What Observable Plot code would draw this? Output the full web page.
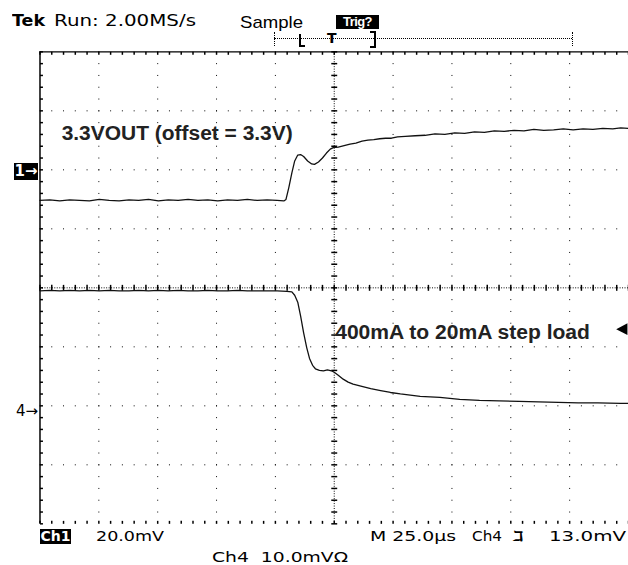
<!DOCTYPE html>
<html><head><meta charset="utf-8">
<script src="https://cdn.jsdelivr.net/npm/d3@7"></script>
<script src="https://cdn.jsdelivr.net/npm/@observablehq/plot@0.6"></script>
<style>
html,body{margin:0;padding:0;background:#fff;overflow:hidden;width:628px;height:565px}
#wrap{position:relative;width:628px;height:565px;overflow:hidden}
#wrap svg{position:absolute;left:0;top:0}
.abs{position:absolute;white-space:nowrap;line-height:1;color:#000}
.dv{font-family:"DejaVu Sans",sans-serif;font-size:14px}
.ar{font-family:"Liberation Sans",Arial,sans-serif;font-size:15px}
.box{background:#000;color:#fff;font-weight:bold;text-align:center}
</style></head><body><div id="wrap"></div>
<script>
// ---- data (time in µs from left edge of screen, voltage in mV relative to channel reference) ----
const ch1Time = [0,4.2,8.4,12.6,16.8,21.0,25.2,29.4,33.6,37.8,41.9,46.1,50.3,54.5,58.7,62.9,67.1,71.3,75.5,79.7,83.9,88.1,92.3,96.5,100.7,103.6,104.5,105.7,107.0,108.2,109.5,110.7,112.0,113.7,115.4,116.6,118.3,120.0,121.7,123.3,124.6,126.7,129.2,131.7,134.2,136.8,139.3,141.8,144.3,146.8,149.3,151.9,155.2,159.4,163.6,167.8,172.0,176.2,180.4,184.6,188.8,193.0,197.2,201.4,205.6,209.8,214.0,218.2,222.3,226.5,230.7,234.9,239.1,243.3,246.7,250.0];
const ch1mV = [-10.38,-10.21,-10.54,-10.21,-10.38,-10.54,-10.04,-10.38,-10.54,-10.21,-10.38,-10.04,-10.54,-10.21,-10.38,-10.04,-10.38,-10.21,-10.54,-10.21,-10.38,-10.04,-10.38,-10.21,-10.38,
-10.54,-10.04,-6.03,-1.00,3.01,5.02,5.19,4.52,3.01,2.01,1.84,2.68,4.02,5.69,7.03,7.53,
7.70,8.20,8.70,9.04,9.71,10.04,10.21,10.54,10.71,10.71,11.21,
11.38,11.55,11.72,12.22,12.05,12.55,12.39,12.89,12.72,13.22,13.05,13.39,13.22,13.72,13.39,13.56,13.89,13.56,13.89,13.72,14.06,13.89,14.22,14.06];
const ch4Time = [0,4.2,8.4,12.6,16.8,21.0,25.2,29.4,33.6,37.8,41.9,46.1,50.3,54.5,58.7,62.9,67.1,71.3,75.5,79.7,83.9,88.1,92.3,96.5,100.7,104.9,107.0,108.2,109.5,110.7,112.0,113.3,114.5,115.8,117.0,118.7,120.4,122.1,123.8,125.0,126.7,128.8,130.9,133.0,136.3,140.5,144.7,148.9,153.1,161.5,169.9,178.3,186.7,195.1,203.5,211.8,220.2,228.6,237.0,246.7,250.0];
const ch4mV = [19.50,19.58,19.50,19.58,19.50,19.58,19.50,19.58,19.50,19.50,19.58,19.50,19.58,19.50,19.58,19.50,19.50,19.58,19.50,19.50,19.58,19.50,19.50,19.50,19.50,
19.41,19.33,18.74,17.57,15.23,12.38,9.87,8.03,6.86,6.28,6.02,5.94,6.10,5.94,5.69,5.19,4.52,4.02,3.68,3.35,2.93,2.59,2.26,2.01,1.59,1.42,1.09,0.92,0.84,0.75,0.67,0.59,0.50,0.50,0.42,0.42];
// channel settings
const ch1Ref = 2, ch4Ref = -2;        // reference marker position (divisions)
const ch1PerDiv = 20, ch4PerDiv = 10; // mV / div
const timePerDiv = 25;                // µs / div
const trigLevel = 13.0;               // mV on Ch4
const annotations = ["3.3VOUT (offset = 3.3V)", "400mA to 20mA step load"];

// ---- build tables ----
const ch1 = ch1Time.map((t,i)=>({t, v: ch1Ref + ch1mV[i]/ch1PerDiv}));
const ch4 = ch4Time.map((t,i)=>({t, v: ch4Ref + ch4mV[i]/ch4PerDiv}));

const xMinor = d3.range(0, 51).map(i => i*timePerDiv/5);
const yMinor = d3.range(-20, 21).map(i => i/5);
const xMajorInner = [1,2,3,4,6,7,8,9].map(i => i*timePerDiv);
const yMajorInner = [-3,-2,-1,1,2,3];

const sym = f => ({draw(c, size){ const r = Math.sqrt(size/Math.PI); f(c, r); }});
const tickH = sym((c,r)=>{c.moveTo(-r,0);c.lineTo(r,0);});
const tickV = sym((c,r)=>{c.moveTo(0,-r);c.lineTo(0,r);});
const tickDown = sym((c,r)=>{c.moveTo(0,0);c.lineTo(0,r);});
const tickUp = sym((c,r)=>{c.moveTo(0,0);c.lineTo(0,-r);});
const tickRight = sym((c,r)=>{c.moveTo(0,0);c.lineTo(r,0);});
const arrowLeft = sym((c,r)=>{c.moveTo(-r,0);c.lineTo(r*0.9,-r);c.lineTo(r*0.9,r);c.closePath();});

const ink = "#000";
const labelStyle = {textAnchor: "start", fontFamily: "Liberation Sans, Arial, sans-serif", fontWeight: "bold", fontSize: 21, fill: "#222"};
const plot = Plot.plot({
  width: 636, height: 565,
  marginLeft: 40, marginRight: 0, marginTop: 52, marginBottom: 35,
  x: {domain: [0, 10*timePerDiv], axis: null},
  y: {domain: [-4, 4], axis: null},
  style: {background: "transparent", overflow: "visible"},
  marks: [
    // dotted graticule
    Plot.ruleX(xMajorInner, {stroke: ink, strokeDasharray: "1,10.95"}),
    Plot.ruleY(yMajorInner, {stroke: ink, strokeDasharray: "1,10.92"}),
    // centre crosshair
    Plot.ruleX([5*timePerDiv], {stroke: ink, strokeDasharray: "1,1.5"}),
    Plot.ruleY([0], {stroke: ink, strokeDasharray: "1,1.5"}),
    Plot.dot(yMinor, {x: 5*timePerDiv, y: d=>d, symbol: tickH, r: 3, stroke: ink, fill: "none"}),
    Plot.dot(xMinor, {x: d=>d, y: 0, symbol: tickV, r: 3, stroke: ink, fill: "none"}),
    // borders with ticks
    Plot.ruleY([4], {stroke: ink, strokeWidth: 1.3}),
    Plot.ruleX([0], {stroke: ink, strokeWidth: 1.5}),
    Plot.dot(xMinor, {x: d=>d, y: 4, symbol: tickDown, r: 3, stroke: ink, fill: "none"}),
    Plot.dot(xMinor, {x: d=>d, y: -4, symbol: tickUp, r: 3, stroke: ink, fill: "none"}),
    Plot.dot(yMinor, {x: 0, y: d=>d, symbol: tickRight, r: 3, stroke: ink, fill: "none"}),
    // traces
    Plot.line(ch1, {x: "t", y: "v", stroke: "#111", strokeWidth: 1.3}),
    Plot.line(ch4, {x: "t", y: "v", stroke: "#111", strokeWidth: 1.3}),
    // Ch4 trigger level indicator at the right edge
    Plot.dot([ch4Ref + trigLevel/ch4PerDiv], {x: 247.3, y: d=>d, symbol: arrowLeft, r: 6, fill: ink, stroke: "none"}),
    // annotations
    Plot.text([annotations[0]], {x: 9.2, y: 2.62, text: d=>d, ...labelStyle}),
    Plot.text([annotations[1]], {x: 125.4, y: -0.75, text: d=>d, ...labelStyle})
  ]
});
// stretch annotation texts to the reference widths
const labelWidths = [234, 258];
plot.querySelectorAll('g[aria-label="text"] text').forEach((t, i) => {
  t.setAttribute("textLength", labelWidths[i]);
  t.setAttribute("lengthAdjust", "spacingAndGlyphs");
});
const wrap = document.getElementById("wrap");
wrap.appendChild(plot);

const ys = plot.scale("y");
function add(html, cls, css, w){
  const s=document.createElement("div"); s.className="abs "+cls; s.innerHTML=html; Object.assign(s.style, css); wrap.appendChild(s);
  if (w) { const r = s.getBoundingClientRect().width; s.style.transformOrigin="0 0"; s.style.transform=`scaleX(${w/r})`; }
  return s;
}

// header
add("Tek", "dv", {left:"12px", top:"12.5px", fontWeight:"bold", fontSize:"16px"}, 33);
add("Run: 2.00MS/s", "dv", {left:"54px", top:"12.5px", fontSize:"16px"}, 142);
add("Sample", "ar", {left:"240px", top:"13.5px", fontSize:"17px"}, 63);
add("Trig?", "box", {left:"336px", top:"15px", width:"43px", height:"14px", lineHeight:"14px", fontFamily:'"Liberation Sans",sans-serif', fontSize:"13px", letterSpacing:"-0.6px"});
// record bracket
add("", "", {left:"274px", top:"38px", width:"298px", height:"0", borderTop:"1px dotted #000"});
add("", "", {left:"274px", top:"32px", width:"0", height:"14px", borderLeft:"1px dotted #000"});
add("", "", {left:"572px", top:"32px", width:"0", height:"14px", borderLeft:"1px dotted #000"});
add("", "", {left:"299px", top:"34px", width:"4px", height:"11px", borderLeft:"2px solid #000", borderBottom:"2px solid #000"});
add("T", "dv", {left:"327px", top:"31px", fontWeight:"bold", fontSize:"14px"});
add("", "", {left:"370px", top:"31px", width:"4px", height:"13px", borderRight:"2px solid #000", borderTop:"2px solid #000", borderBottom:"2px solid #000"});

// channel markers
const y1 = ys.apply(ch1Ref), y4 = ys.apply(ch4Ref);
add("1&#8594;", "box dv", {left:"14px", top:(y1-8.5)+"px", width:"24px", height:"17px", lineHeight:"17px", fontSize:"15px"});
add("4&#8594;", "dv", {left:"16px", top:(y4-8)+"px", lineHeight:"16px", fontSize:"15px"});

// footer
add("Ch1", "box dv", {left:"40px", top:"529px", width:"31px", height:"15px", lineHeight:"15px"});
add("20.0mV", "dv", {left:"96px", top:"529px"}, 68);
add("M 25.0µs", "dv", {left:"370px", top:"529px"}, 86);
add("Ch4", "dv", {left:"472px", top:"529px"}, 30);
add("&#8503;", "dv", {left:"512px", top:"529px", fontWeight:"bold"}, 12);
add("13.0mV", "dv", {left:"549px", top:"529px"}, 77);
add("Ch4&nbsp;&nbsp;10.0mV&#937;", "dv", {left:"212px", top:"550px"}, 136);
</script></body></html>
